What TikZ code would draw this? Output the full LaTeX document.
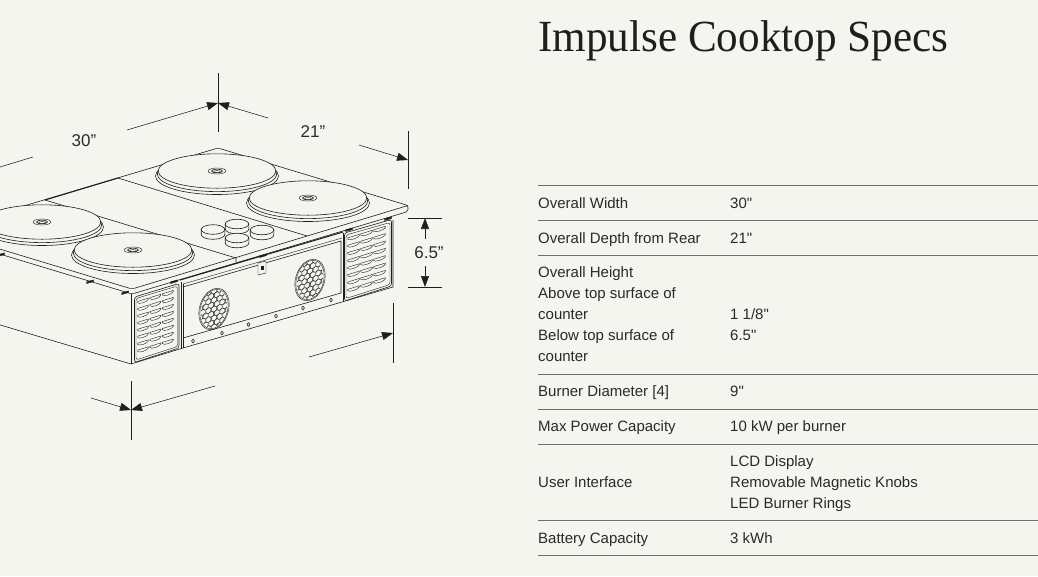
\documentclass[tikz,border=0pt]{standalone}
\usepackage{fontspec}
\usepackage{graphicx}
\setmainfont{Liberation Sans}
\newfontfamily\titlefont{Liberation Serif}
\newfontfamily\cellfont{Liberation Sans}
\usetikzlibrary{arrows.meta}
\definecolor{paper}{HTML}{F4F5EF}
\definecolor{ink}{HTML}{1E1E1E}
\definecolor{bodytext}{HTML}{2A2A2A}
\definecolor{rulecol}{HTML}{6E6E6A}
\tikzset{
  lineart/.style={draw=ink,line width=0.6pt,line join=round},
  fineart/.style={draw=ink,line width=0.4pt,line join=round},
  heavyart/.style={draw=ink,line width=1.05pt},
  dimline/.style={draw=ink,line width=0.55pt},
  dimarrow/.style={draw=ink,line width=0.55pt,-{Triangle[length=11pt,width=8pt]}},
  dimlabel/.style={font=\fontsize{17}{20}\selectfont,text=bodytext,inner sep=0pt},
  cell/.style={font=\cellfont\fontsize{15}{21}\selectfont,text=bodytext,anchor=base west,inner sep=0pt},
  tablerule/.style={draw=rulecol,line width=0.9pt},
  clipmark/.style={fill=ink,draw=ink,line width=0.3pt}
}
\newcommand{\burnerdisc}[2]{%
  \draw[lineart,fill=paper] (#1,#2+5) ellipse [x radius=61.5,y radius=18.5];
  \draw[lineart,fill=paper] (#1,#2+3) ellipse [x radius=59.7,y radius=17.6];
  \draw[lineart,fill=paper] (#1,#2) ellipse [x radius=58.8,y radius=17.2];
  \draw[fineart] (#1,#2) ellipse [x radius=9,y radius=3];
  \draw[lineart] (#1,#2) ellipse [x radius=5.5,y radius=1.9];
  \draw[fineart] (#1,#2+0.6) ellipse [x radius=3.5,y radius=1];
}
\newcommand{\knobshape}[2]{%
  \draw[lineart,fill=paper] (#1-11.8,#2) -- (#1-11.8,#2+5) arc [start angle=180,end angle=0,x radius=11.8,y radius=4.8] -- (#1+11.8,#2) -- cycle;
  \draw[lineart,fill=paper] (#1,#2) ellipse [x radius=11.8,y radius=4.8];
}
\newcommand{\grillecircle}[2]{%
  \begin{scope}[shift={(#1,#2)},x={(1pt,0.3pt)},y={(0pt,-1pt)}]
    \draw[fineart] (0,0) circle [x radius=15.2,y radius=20.2];
    \draw[fineart] (0,0) circle [x radius=14.2,y radius=19.2];
    \clip (0,0) circle [x radius=13.2,y radius=18.2];
    \foreach \i in {-3,...,3}{
      \foreach \j in {-5,...,5}{
        \pgfmathsetmacro{\cx}{\i*5.6+mod(abs(\j),2)*2.8}
        \pgfmathsetmacro{\cy}{\j*4.5}
        \draw[draw=ink,line width=0.35pt,shift={(\cx,\cy)}] (0,2.9)--(2.4,1.45)--(2.4,-1.45)--(0,-2.9)--(-2.4,-1.45)--(-2.4,1.45)--cycle;
      }
    }
  \end{scope}
}
\newcommand{\louvers}[5]{% x y colpitch rowpitch width
  \begin{scope}[shift={(#1,#2)},x={(1pt,0.31pt)},y={(0pt,-1pt)}]
    \foreach \r in {0,...,7}{
      \foreach \c in {0,1,2}{
        \pgfmathsetmacro{\lx}{\c*#3}
        \pgfmathsetmacro{\ly}{\r*#4}
        \draw[fineart,shift={(\lx,\ly)}] (0,0) -- (#5,0) -- (#5,1) .. controls (#5-0.6,3.6) and (0.6,3.6) .. (0,1) -- cycle;
      }
    }
  \end{scope}
}
\begin{document}
\begin{tikzpicture}[x=1pt,y=-1pt]
\useasboundingbox (0,0) rectangle (1038,576);
\fill[paper] (0,0) rectangle (1038,576);
\begin{scope}
\clip (0,0) rectangle (1038,576);
% body
\draw[lineart] (131,294) -- (131,364);
\draw[lineart] (-3,324) -- (131,364) -- (183,348) -- (342,302) -- (393,287) -- (393,220);
% plate
\draw[lineart,rounded corners=2pt] (-60,231) -- (218,148) -- (408,205.5) -- (408,211.5) -- (132,294) -- (-60,236);
\draw[lineart,rounded corners=2pt] (-60,231) -- (132,289) -- (408,205.5);
\draw[heavyart] (118,178) -- (45,200);
\draw[heavyart] (180,280) -- (343,232);
% seams
\draw[lineart] (118,178) -- (307,236);
\draw[lineart] (45,200) -- (236,258) -- (236,262);
% recess panel
\draw[fineart] (183,284) -- (342,238);
\draw[lineart] (183,287) -- (341,241) -- (341,293);
\draw[lineart] (183,284) -- (183,348);
\draw[lineart] (183,338) -- (341,293);
\draw[lineart] (343,233) -- (343,302);
\draw[lineart] (181,282) -- (181,349);
% strip holes
\foreach \n/\hx/\hy in {a/193/341,b/222/333,c/248.5/324.5,d/276/316,e/303/308,f/331/300}{
  \draw[lineart] (\hx,\hy) ellipse [x radius=1.5,y radius=1.9];
}
% little latch
\draw[fineart,fill=paper] (258,263) -- (266,261) -- (266,273) -- (258,275) -- cycle;
\fill[ink] (260.5,266) rectangle (263.5,270);
% clips
\foreach \mx/\my in {1/254,90/281,125/292,174/281,263/255,349/229,388/218}{
  \draw[clipmark,shift={(\mx,\my)}] (-3.5,0.8) -- (3.5,-1.2) -- (3.5,0.6) -- (-3.5,2.6) -- cycle;
}
% left vent
\draw[lineart,rounded corners=2.5pt] (134.5,297) -- (179,283.5) -- (179,348) -- (134.5,362.5) -- cycle;
\draw[fineart,rounded corners=2.5pt] (136,298.5) -- (177.5,286) -- (177.5,346.5) -- (136,360) -- cycle;
\louvers{137.5}{301.5}{12.4}{6.95}{11}
% right vent
\draw[lineart,rounded corners=2.5pt] (344.5,233) -- (391.5,219.5) -- (391.5,286) -- (344.5,301) -- cycle;
\draw[fineart,rounded corners=2.5pt] (346,235) -- (390,222.5) -- (390,284.5) -- (346,298.5) -- cycle;
\louvers{347.5}{238}{13}{7.35}{12}
% grilles
\grillecircle{214}{309}
\grillecircle{310}{280}
% burners
\burnerdisc{217}{171}
\burnerdisc{308}{198}
\burnerdisc{42}{222}
\burnerdisc{133}{250}
% knobs
\knobshape{237}{224}
\knobshape{213}{229.5}
\knobshape{262}{230}
\knobshape{237}{238}
% dimensions
\coordinate (topx) at (218,103);
\coordinate (topa) at (218,73); \coordinate (topb) at (218,132);
\coordinate (topl) at (127,130); \coordinate (topr) at (268,118);
\draw[dimline] (topa) -- (topb);
\draw[dimarrow] (topl) -- (topx);
\draw[dimarrow] (topr) -- (topx);
\coordinate (farl) at (33,157); \coordinate (farm) at (-5,168.5);
\draw[dimline] (farl) -- (farm);
\coordinate (ra) at (408,131); \coordinate (rb) at (408,189);
\coordinate (rs) at (359,145); \coordinate (rt) at (408,160);
\draw[dimline] (ra) -- (rb);
\draw[dimarrow] (rs) -- (rt);
\coordinate (ha) at (408,218); \coordinate (hb) at (442,218);
\coordinate (hc) at (408,287); \coordinate (hd) at (442,287);
\draw[dimline] (ha) -- (hb);
\draw[dimline] (hc) -- (hd);
\node[dimlabel] (hlabel) at (429,253) {6.5”};
\coordinate (hu) at (425,218); \coordinate (hv) at (425,287);
\coordinate (hus) at (425,239); \coordinate (hvs) at (425,266);
\draw[dimarrow] (hus) -- (hu);
\draw[dimarrow] (hvs) -- (hv);
\coordinate (ba) at (393,303); \coordinate (bb) at (393,363);
\coordinate (bs) at (309,357); \coordinate (bt) at (393,333);
\draw[dimline] (ba) -- (bb);
\draw[dimarrow] (bs) -- (bt);
\coordinate (ca) at (131,381); \coordinate (cb) at (131,440);
\coordinate (cl) at (91,398); \coordinate (cr) at (215,386); \coordinate (ct) at (131,410);
\draw[dimline] (ca) -- (cb);
\draw[dimarrow] (cl) -- (ct);
\draw[dimarrow] (cr) -- (ct);
\node[dimlabel] (wlabel) at (84,141) {30”};
\node[dimlabel] (dlabel) at (313,132) {21”};
\end{scope}
% title
\node[anchor=base west,inner sep=0pt,text=ink] (title) at (538,51) {\scalebox{0.97}[1]{\titlefont\fontsize{44.5}{50}\selectfont Impulse Cooktop Specs}};
% table
\foreach \ry in {185,220,255,374,409,444,520,555}{
  \draw[tablerule] (538,\ry) -- (1038,\ry);
}
\node[cell] (a1) at (538,208) {Overall Width};
\node[cell] (b1) at (730,208) {30"};
\node[cell] (a2) at (538,243) {Overall Depth from Rear};
\node[cell] (b2) at (730,243) {21"};
\node[cell] (a3) at (538,277) {Overall Height};
\node[cell] (a4) at (538,298) {Above top surface of};
\node[cell] (a5) at (538,319) {counter};
\node[cell] (b5) at (730,319) {1 1/8"};
\node[cell] (a6) at (538,340) {Below top surface of};
\node[cell] (b6) at (730,340) {6.5"};
\node[cell] (a7) at (538,361) {counter};
\node[cell] (a8) at (538,396) {Burner Diameter [4]};
\node[cell] (b8) at (730,396) {9"};
\node[cell] (a9) at (538,431) {Max Power Capacity};
\node[cell] (b9) at (730,431) {10 kW per burner};
\node[cell] (b10) at (730,466) {LCD Display};
\node[cell] (a11) at (538,487) {User Interface};
\node[cell] (b11) at (730,487) {Removable Magnetic Knobs};
\node[cell] (b12) at (730,508) {LED Burner Rings};
\node[cell] (a13) at (538,543) {Battery Capacity};
\node[cell] (b13) at (730,543) {3 kWh};
\end{tikzpicture}
\end{document}
